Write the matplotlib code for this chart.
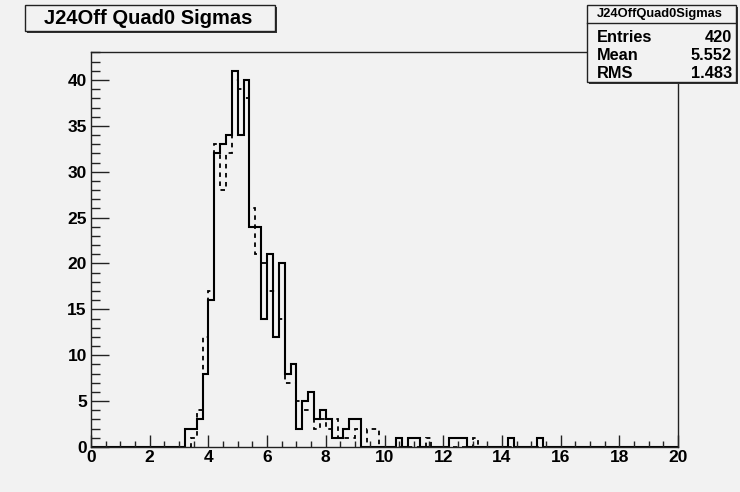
import numpy as np
import matplotlib
matplotlib.use("Agg")
import matplotlib.pyplot as plt
from matplotlib.patches import Rectangle
from matplotlib.ticker import MultipleLocator


# bins of width 0.2, counts listed from 3.2 upward (everything else is 0)
bin_width = 0.2
first_bin = 3.2

solid_counts = [2, 2, 3, 8, 16, 32, 33, 34, 41, 34, 40, 24, 24, 14, 21, 12, 20, 8, 9, 2,
                5, 6, 3, 4, 3, 1, 1, 2, 3, 3, 0, 0, 0, 0, 0, 0, 1, 0, 1, 1,
                0, 0, 0, 0, 0, 1, 1, 1, 0, 0, 0, 0, 0, 0, 0, 1, 0, 0, 0, 0,
                1, 0]

dashed_counts = [0, 1, 4, 12, 17, 33, 28, 32, 40, 39, 38, 26, 21, 20, 17, 17, 14, 7, 7, 5,
                 4, 4, 2, 3, 2, 3, 1, 1, 1, 2, 0, 2, 2, 0, 0, 0, 0, 0, 0, 0,
                 0, 1, 0, 0, 0, 0, 0, 0, 0, 1, 0, 0, 0, 0, 0, 0, 0, 0, 0, 0,
                 0, 0]

title_text = "J24Off Quad0 Sigmas"
stats_name = "J24OffQuad0Sigmas"
stats_rows = [("Entries", "420"), ("Mean", "5.552"), ("RMS", "1.483")]

x_range = (0, 20)
y_max = 43.05

bg = "#f2f2f2"
W, H = 740, 492

plt.rcParams["font.family"] = ["Liberation Sans", "DejaVu Sans"]
plt.rcParams["font.weight"] = "bold"

edges = np.round(np.arange(x_range[0], x_range[1] + bin_width / 2, bin_width), 6)
n_bins = len(edges) - 1
start = int(round((first_bin - x_range[0]) / bin_width))

solid = np.zeros(n_bins)
solid[start:start + len(solid_counts)] = solid_counts
dashed = np.zeros(n_bins)
dashed[start:start + len(dashed_counts)] = dashed_counts

fig = plt.figure(figsize=(W / 100, H / 100), dpi=100, facecolor=bg)

left, right, top, bottom = 91, 678, 52, 447
ax = fig.add_axes([left / W, 1 - bottom / H, (right - left) / W, (bottom - top) / H])
ax.set_facecolor(bg)

ax.stairs(dashed, edges, color="black", linewidth=1.3, linestyle=(0, (2.5, 2.5)))
ax.stairs(solid, edges, color="black", linewidth=1.5)

ax.set_xlim(*x_range)
ax.set_ylim(0, y_max)

ax.xaxis.set_major_locator(MultipleLocator(2))
ax.xaxis.set_minor_locator(MultipleLocator(0.5))
ax.yaxis.set_major_locator(MultipleLocator(5))
ax.yaxis.set_minor_locator(MultipleLocator(1))

ax.tick_params(axis="x", which="major", direction="in", length=8.5, width=1, pad=2, labelsize=12.5)
ax.tick_params(axis="x", which="minor", direction="in", length=4.2, width=1)
ax.tick_params(axis="y", which="major", direction="in", length=12.7, width=1, pad=3, labelsize=12.5)
ax.tick_params(axis="y", which="minor", direction="in", length=6.3, width=1)
ax.tick_params(top=False, right=False, which="both", colors="#222222", labelcolor="black")

for side in ["top", "right", "bottom", "left"]:
    ax.spines[side].set_linewidth(1.0)
    ax.spines[side].set_color("#222222")


def px_box(x0, y0, x1, y1, **kw):
    # rectangle given in picture pixels (origin top-left)
    r = Rectangle((x0 / W, 1 - y1 / H), (x1 - x0) / W, (y1 - y0) / H,
                  transform=fig.transFigure, **kw)
    fig.add_artist(r)
    return r


# title box with shadow
px_box(27, 7, 277, 33, facecolor="#333333", edgecolor="none")
px_box(25, 5, 275, 31, facecolor=bg, edgecolor="#222222", linewidth=1)
fig.text(148 / W, 1 - 18.5 / H, title_text, ha="center", va="center", fontsize=14.5, fontweight="bold")

# stats box with shadow
px_box(589, 7, 738, 84, facecolor="#333333", edgecolor="none")
px_box(587, 5, 736, 82, facecolor=bg, edgecolor="#222222", linewidth=1)
fig.add_artist(plt.Line2D([587 / W, 736 / W], [1 - 23 / H, 1 - 23 / H],
                          transform=fig.transFigure, color="#222222", linewidth=1))
fig.text(660 / W, 1 - 14 / H, stats_name, ha="center", va="center", fontsize=9.3, fontweight="bold")
for i, (name, value) in enumerate(stats_rows):
    y = 1 - (37 + i * 18) / H
    fig.text(597 / W, y, name, ha="left", va="center", fontsize=11.8, fontweight="bold")
    fig.text(732 / W, y, value, ha="right", va="center", fontsize=11.8, fontweight="bold")

fig.savefig("out.png", dpi=100, facecolor=bg)
